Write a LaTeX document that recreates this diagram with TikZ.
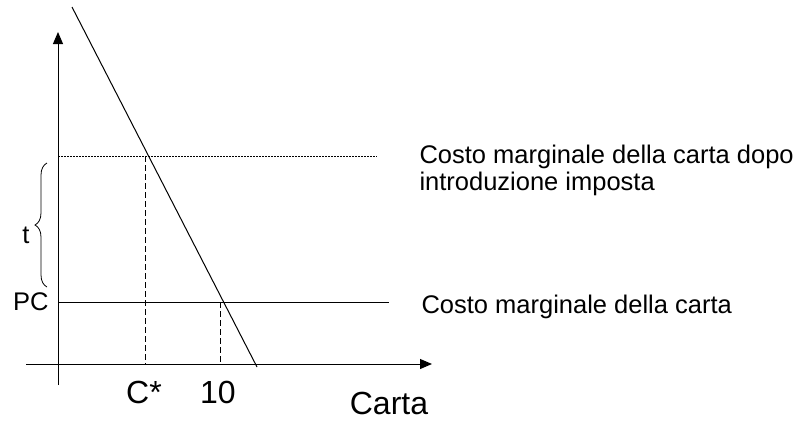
\documentclass[tikz,border=0pt]{standalone}
\usepackage{fontspec}
\setmainfont{Liberation Sans}
\usetikzlibrary{arrows.meta,decorations.pathreplacing}

\begin{document}
\begin{tikzpicture}[x=1pt,y=-1pt,>={Triangle[length=12pt,width=10pt]},line width=1pt,
	txt/.style={inner sep=0pt,font=\fontsize{25.5}{29}\selectfont},
	big/.style={inner sep=0pt,font=\fontsize{32}{36}\selectfont},
	drop/.style={dash pattern=on 6pt off 3pt},
	tax/.style={dash pattern=on 1.5pt off 1.5pt}]
\useasboundingbox (0,0) rectangle (798,421);

\coordinate (ybot) at (58,385);
\coordinate (ytop) at (58,32);
\coordinate (xl) at (26,364);
\coordinate (xr) at (432,364);
\coordinate (dtop) at (72,7);
\coordinate (dbot) at (257,367);

\coordinate (mct0) at (58,156);
\coordinate (mct1) at (377,156);
\coordinate (mc0) at (58,302);
\coordinate (mc1) at (389,302);

\coordinate (cs) at (145,156);
\coordinate (cs0) at (145,364);
\coordinate (ten) at (220,302);
\coordinate (ten0) at (220,364);

\coordinate (br0) at (47,287);
\coordinate (br1) at (47,163);

\draw[->] (ybot) -- (ytop);
\draw[->] (xl) -- (xr);
\draw (dtop) -- (dbot);

\draw[tax] (mct0) -- (mct1);
\draw (mc0) -- (mc1);

\draw[drop] (cs) -- (cs0);
\draw[drop] (ten) -- (ten0);

\draw[line width=0.8pt,decorate,decoration={brace,amplitude=12pt}] (br0) -- (br1);

\node[txt,anchor=base east] (t) at (30,243) {t};
\node[txt,anchor=base east] (pc) at (49,310) {PC};

\node[big,anchor=base] (cstar) at (144,403) {C*};
\node[big,anchor=base] (dieci) at (218,403) {10};
\node[big,anchor=base] (carta) at (389,414) {Carta};

\node[txt,anchor=base west] (mctlab) at (419,163) {Costo marginale della carta dopo};
\node[txt,anchor=base west] (mctlab2) at (419,190) {introduzione imposta};
\node[txt,anchor=base west] (mclab) at (421,313) {Costo marginale della carta};

\end{tikzpicture}
\end{document}
